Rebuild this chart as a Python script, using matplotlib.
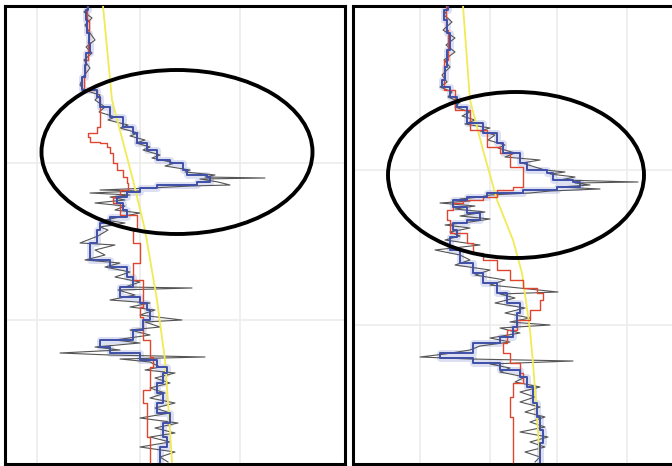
import numpy as np
import matplotlib
matplotlib.use("Agg")
import matplotlib.pyplot as plt
from matplotlib.patches import Ellipse

# depth (down) and log value (arbitrary units)
# ---- left well ----
gray_L_depth = [6, 12, 18, 25, 33, 40, 47, 53, 60, 68, 77, 85, 90, 95, 100, 107, 112, 117, 120, 125,
                128, 133, 136, 140, 143, 147, 150, 155, 158, 163, 166, 170, 172, 175, 177, 178, 179, 182,
                185, 186, 188, 190, 191, 193, 195, 197, 200, 203, 206, 210, 213, 217, 220, 223, 227, 230,
                236, 243, 245, 250, 255, 260, 263, 267, 272, 277, 282, 287, 288, 290, 295, 300, 303, 307,
                310, 315, 320, 322, 327, 330, 335, 340, 343, 347, 350, 353, 355, 357, 359, 362, 367, 370,
                373, 378, 383, 388, 393, 398, 403, 408, 413, 418, 423, 428, 433, 437, 442, 447, 452, 457, 462]
gray_L = [90, 84, 92, 85, 90, 95, 86, 92, 84, 90, 83, 80, 84, 100, 95, 105, 99, 115, 108, 128,
          120, 138, 130, 145, 136, 150, 143, 160, 152, 175, 165, 190, 185, 215, 205, 265, 200, 218,
          230, 190, 150, 100, 140, 90, 130, 110, 125, 95, 125, 115, 140, 120, 105, 125, 100, 108,
          98, 80, 115, 95, 105, 85, 120, 105, 130, 115, 140, 125, 192, 118, 135, 110, 150, 130,
          155, 140, 182, 145, 160, 130, 150, 115, 140, 95, 120, 60, 110, 205, 120, 150, 160, 145,
          175, 155, 170, 150, 165, 150, 175, 155, 170, 140, 178, 155, 175, 150, 170, 140, 175, 160, 168]

blue_L_depth = [6, 10, 20, 33, 43, 53, 65, 77, 90, 97, 107, 117, 127, 133, 143, 150, 160, 163, 170, 175,
                177, 182, 185, 188, 192, 197, 203, 210, 217, 223, 230, 243, 260, 267, 277, 287, 297, 303,
                310, 320, 330, 340, 347, 353, 360, 367, 373, 383, 393, 403, 413, 423, 437, 447, 462]
blue_L = [88, 88, 86, 87, 89, 90, 86, 85, 82, 97, 100, 110, 123, 133, 137, 147, 157, 170, 183, 187,
          207, 210, 197, 157, 140, 127, 117, 123, 127, 110, 100, 97, 90, 110, 127, 133, 120, 140,
          147, 150, 143, 133, 100, 110, 140, 157, 167, 163, 157, 163, 157, 170, 163, 167, 160]

red_L_depth = [6, 20, 40, 60, 77, 90, 97, 107, 127, 133, 137, 142, 143, 147, 153, 163, 170, 177, 183, 190,
               197, 203, 215, 230, 243, 250, 263, 267, 280, 287, 307, 317, 340, 357, 367, 390, 403, 417, 437, 462]
red_L = [88, 87, 89, 88, 85, 84, 97, 100, 100, 97, 88, 90, 100, 107, 110, 113, 117, 123, 127, 128,
         120, 113, 120, 137, 133, 140, 140, 133, 133, 143, 143, 140, 143, 150, 153, 150, 143, 147, 147, 150]

trend_L_depth = [6, 100, 180, 230, 300, 360, 430, 462]
trend_L = [103, 112, 133, 145, 157, 165, 170, 172]

# ---- right well ----
gray_R_depth = [6, 15, 22, 30, 38, 45, 52, 60, 67, 75, 82, 87, 92, 97, 102, 107, 112, 116, 120, 124,
                128, 131, 135, 140, 145, 148, 153, 157, 160, 163, 167, 170, 172, 174, 177, 180, 182, 183,
                185, 187, 189, 191, 193, 195, 197, 199, 201, 203, 206, 209, 212, 216, 219, 222, 225, 228,
                232, 236, 240, 245, 250, 255, 260, 265, 270, 275, 280, 285, 292, 294, 298, 303, 308, 313,
                318, 322, 325, 328, 333, 338, 342, 346, 350, 354, 357, 359, 361, 364, 368, 372, 377, 382,
                387, 392, 397, 402, 407, 412, 417, 422, 427, 432, 437, 442, 447, 452, 457, 462]
gray_R = [450, 444, 452, 443, 455, 446, 455, 444, 450, 442, 447, 440, 452, 448, 460, 455, 470, 462, 475, 465,
          490, 480, 495, 488, 505, 498, 515, 505, 540, 522, 535, 545, 565, 550, 575, 560, 638, 575,
          590, 560, 600, 550, 530, 490, 480, 460, 470, 440, 475, 455, 485, 460, 490, 470, 445, 470,
          450, 460, 445, 480, 435, 460, 470, 455, 490, 475, 505, 490, 558, 500, 515, 495, 525, 505,
          530, 510, 550, 500, 520, 490, 510, 480, 470, 445, 420, 470, 573, 490, 510, 500, 525, 515,
          540, 520, 535, 520, 540, 525, 545, 530, 545, 520, 548, 530, 545, 525, 540, 535]

blue_R_depth = [6, 10, 20, 33, 50, 67, 80, 87, 97, 107, 123, 133, 143, 153, 163, 170, 173, 180, 182, 187,
                190, 193, 197, 200, 207, 213, 220, 223, 230, 237, 250, 263, 273, 283, 293, 303, 313, 327,
                337, 343, 353, 358, 363, 370, 377, 387, 403, 417, 430, 443, 462]
blue_R = [448, 448, 444, 447, 450, 447, 445, 442, 450, 457, 467, 483, 497, 503, 520, 527, 547, 553, 573, 580,
          557, 523, 487, 467, 453, 467, 480, 467, 453, 457, 450, 460, 473, 483, 497, 507, 520, 517,
          513, 500, 473, 440, 473, 500, 520, 527, 533, 537, 540, 543, 540]

red_R_depth = [6, 30, 60, 90, 110, 130, 147, 153, 160, 167, 170, 187, 190, 197, 200, 203, 210, 220, 230, 233,
               243, 253, 260, 270, 280, 288, 293, 300, 310, 320, 330, 343, 353, 363, 373, 383, 397, 417, 430, 462]
red_R = [448, 446, 448, 444, 455, 470, 487, 500, 510, 510, 523, 523, 513, 497, 483, 463, 453, 447, 450, 450,
         467, 473, 483, 497, 510, 523, 537, 543, 540, 530, 517, 507, 503, 510, 520, 523, 513, 510, 513, 513]

trend_R_depth = [6, 100, 150, 200, 240, 273, 330, 363, 417, 462]
trend_R = [463, 470, 483, 497, 513, 522, 530, 533, 537, 540]

W, H = 672, 466
fig = plt.figure(figsize=(W / 100, H / 100), dpi=100)
fig.patch.set_facecolor("white")


def panel(rect, xlim, xgrid, ygrid, gd, gv, bd, bv, rd, rv, td, tv, ell):
    ax = fig.add_axes(rect)
    ax.set_xlim(*xlim)
    ax.set_ylim(464, 6)
    for gx in xgrid:
        ax.axvline(gx, color="#ececec", lw=1.2, zorder=0)
    for gy in ygrid:
        ax.axhline(gy, color="#ececec", lw=1.2, zorder=0)
    ax.plot(bv, bd, color="#a8b2e0", lw=5, alpha=0.4, drawstyle="steps-post", zorder=1)
    ax.plot(gv, gd, color="#555555", lw=0.8, zorder=2)
    ax.plot(tv, td, color="#f2ea55", lw=1.3, zorder=3)
    ax.plot(rv, rd, color="#e0452f", lw=1.0, drawstyle="steps-post", zorder=4)
    ax.plot(bv, bd, color="#3f50a8", lw=1.4, drawstyle="steps-post", zorder=5)
    ax.add_patch(Ellipse(ell[:2], ell[2], ell[3], fill=False, ec="black", lw=2.8, zorder=6))
    ax.set_xticks([])
    ax.set_yticks([])
    for s in ax.spines.values():
        s.set_linewidth(2.2)
        s.set_color("black")
    return ax


panel([5 / W, 2 / H, 340 / W, 458 / H], (5, 345), [37, 140, 240], [163, 320],
      gray_L_depth, gray_L, blue_L_depth, blue_L, red_L_depth, red_L, trend_L_depth, trend_L,
      (177, 152, 271, 164))
panel([353 / W, 2 / H, 330 / W, 458 / H], (353, 683), [420, 490, 557, 627], [170, 325],
      gray_R_depth, gray_R, blue_R_depth, blue_R, red_R_depth, red_R, trend_R_depth, trend_R,
      (516, 175, 256, 166))

fig.savefig("out.png", dpi=100)
